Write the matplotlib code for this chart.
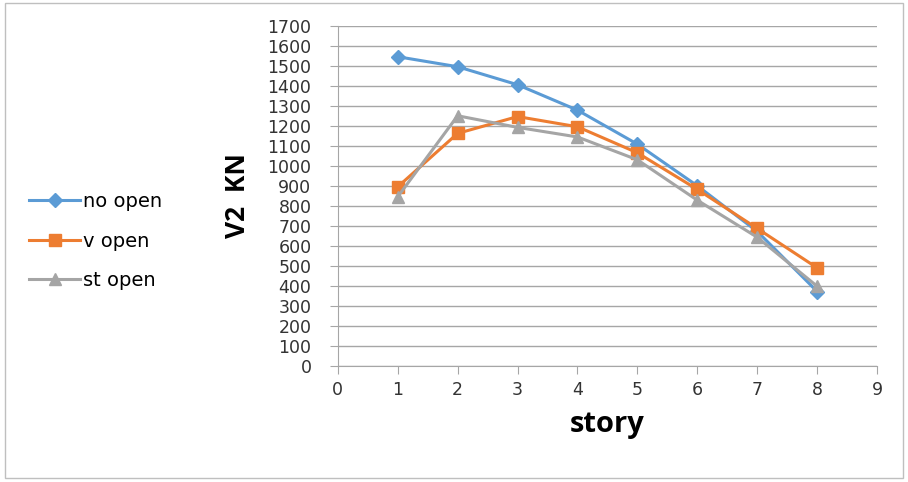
import matplotlib.pyplot as plt
from matplotlib.patches import Rectangle

# data
story = [1, 2, 3, 4, 5, 6, 7, 8]
no_open = [1545, 1495, 1405, 1278, 1108, 900, 672, 372]
v_open = [895, 1162, 1246, 1195, 1065, 882, 687, 490]
st_open = [845, 1250, 1192, 1144, 1030, 828, 643, 398]

plt.rcParams['font.family'] = ['DejaVu Sans']

fig = plt.figure(figsize=(9.08, 4.82), dpi=100)
ax = fig.add_axes([0.372, 0.2407, 0.594, 0.706])

# outer chart border
fig.patches.append(Rectangle((0.006, 0.008), 0.988, 0.986, transform=fig.transFigure,
                             fill=False, edgecolor='#bfbfbf', linewidth=1))

ax.plot(story, no_open, color='#5B9BD5', linewidth=2.2, marker='D', markersize=7, label='no open')
ax.plot(story, v_open, color='#ED7D31', linewidth=2.2, marker='s', markersize=8, label='v open')
ax.plot(story, st_open, color='#A5A5A5', linewidth=2.2, marker='^', markersize=8, label='st open')

ax.set_xlim(0, 9)
ax.set_ylim(0, 1700)
ax.set_xticks(range(0, 10))
ax.set_yticks(range(0, 1701, 100))
ax.grid(axis='y', color='#a6a6a6', linewidth=1)
ax.set_axisbelow(True)

for s in ['top', 'right']:
    ax.spines[s].set_visible(False)
ax.spines['left'].set_color('#a6a6a6')
ax.spines['bottom'].set_color('#a6a6a6')
ax.tick_params(axis='both', colors='#a6a6a6', labelcolor='#333333', labelsize=12.5, length=6)
ax.tick_params(axis='y', pad=13)
ax.tick_params(axis='x', pad=5)

ax.set_xlabel('story', fontsize=21, fontweight='bold', family='Open Sans', labelpad=8)
ax.set_ylabel('V2  KN', fontsize=19, fontweight='bold', family='Open Sans', labelpad=12)

leg = fig.legend(loc='center left', bbox_to_anchor=(0.013, 0.5), frameon=False,
                 fontsize=14, labelspacing=1.05, handlelength=2.6, handletextpad=0.15)

fig.savefig('out.png', dpi=100)
